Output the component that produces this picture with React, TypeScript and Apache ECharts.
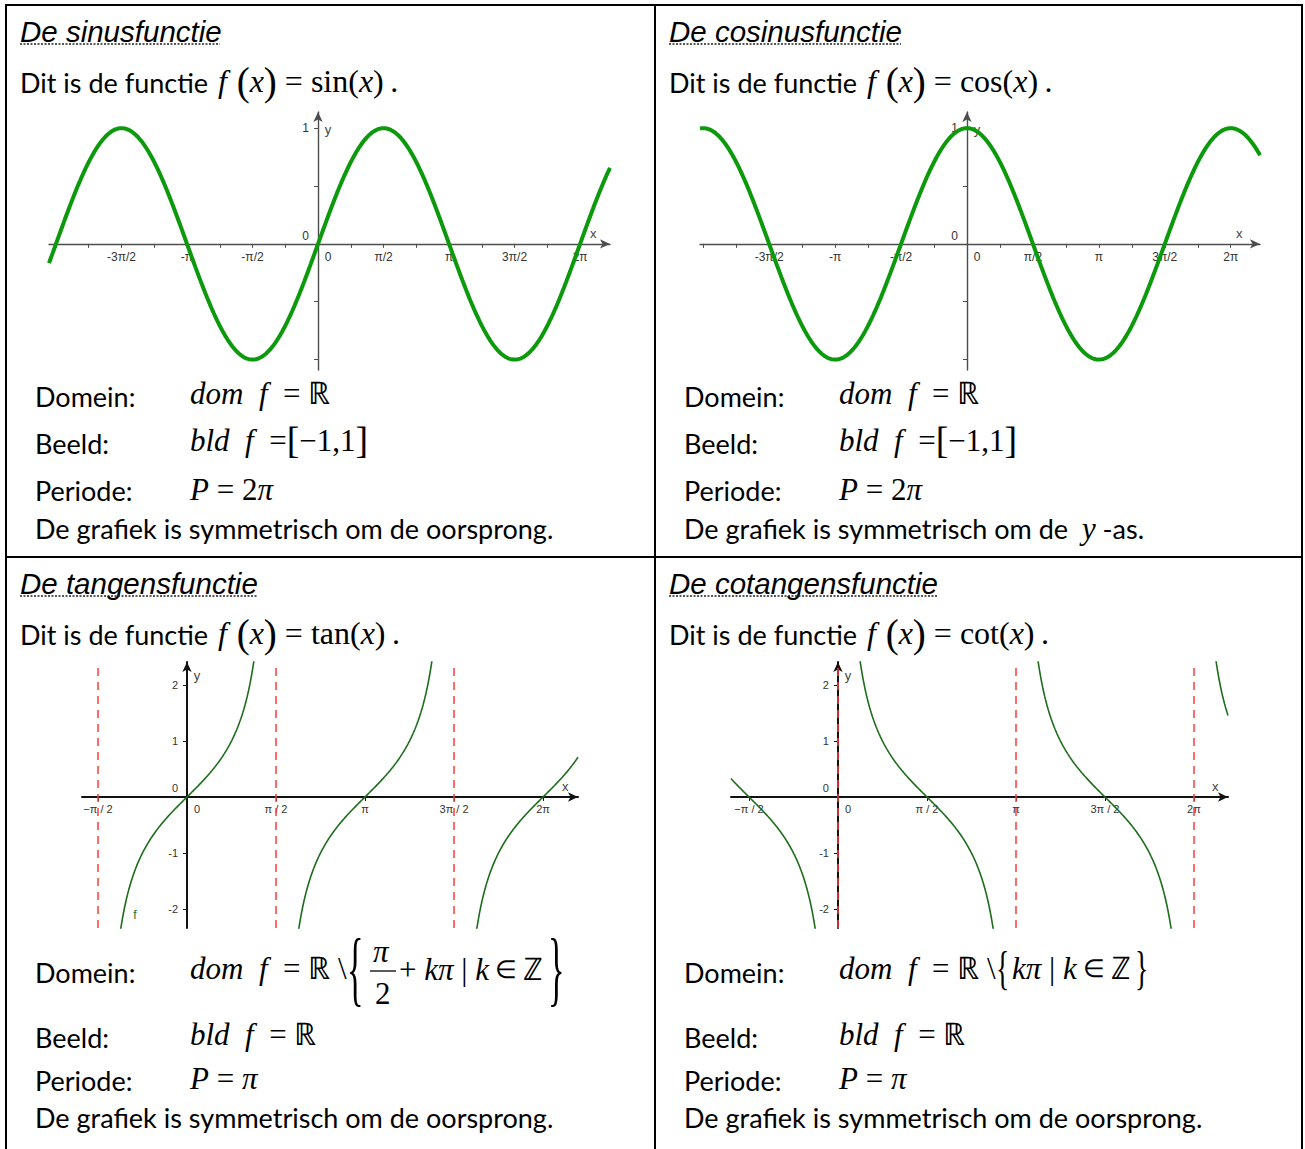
import React, { useEffect, useRef } from "react";
import * as echarts from "echarts";

const W = 1305;
const H = 1149;
const PI = Math.PI;

// Visible x ranges (radians) and y ranges of the four plots
const sinRange = [-6.45, 7.0];
const cosRange = [-6.36, 6.98];
const tanRange = [-1.853, 6.9];
const cotRange = [-1.888, 6.885];
const waveYRange = [-1.09, 1.14];
const tanYRange = [-2.34, 2.41];

// Tick labels (multiples of pi/2)
const waveSteps = [-3, -2, -1, 0, 1, 2, 3, 4];
const waveLabels = ["-3π/2", "-π", "-π/2", "0", "π/2", "π", "3π/2", "2π"];
const tanSteps = [-1, 0, 1, 2, 3, 4];
const tanLabels = ["−π / 2", "0", "π / 2", "π", "3π / 2", "2π"];
const waveYTicks = [-1, -0.5, 0.5, 1];
const waveYLabels = [0, 1];
const tanYTicks = [-2, -1, 1, 2];
const tanYLabels = [-2, -1, 0, 1, 2];

// Vertical asymptotes (in multiples of pi/2)
const tanAsymptotes = [-1, 1, 3];
const cotAsymptotes = [0, 2, 4];

// Branch limits where |tan| or |cot| stays within the drawn window
const branchCut = 3;
const samplesPerCurve = 600;

// Plot boxes
const grids = [
  { left: 49, top: 112, width: 561, height: 258 },
  { left: 700, top: 112, width: 560, height: 258 },
  { left: 82, top: 662, width: 496, height: 266 },
  { left: 731, top: 662, width: 497, height: 266 },
];

const SANS = "Lato";
const SERIF = "Liberation Serif";
const WAVE_GREEN = "#0c990c";
const TAN_GREEN = "#1d6d1d";

function sampleFn(fn: (x: number) => number, a: number, b: number, n: number) {
  const pts: number[][] = [];
  for (let i = 0; i <= n; i++) {
    const x = a + ((b - a) * i) / n;
    pts.push([x, fn(x)]);
  }
  return pts;
}

function quarterTicks(r: number[]) {
  const out: number[] = [];
  for (let k = Math.ceil(r[0] / (PI / 4)); (k * PI) / 4 <= r[1]; k++) if (k !== 0) out.push((k * PI) / 4);
  return out;
}

function tanBranches(r: number[]) {
  const res: number[][][] = [];
  const c = Math.atan(branchCut);
  for (let k = -1; k <= 3; k++) {
    const a = Math.max(k * PI - c, r[0]);
    const b = Math.min(k * PI + c, r[1]);
    if (b > a) res.push(sampleFn(Math.tan, a, b, 200));
  }
  return res;
}

function cotBranches(r: number[]) {
  const res: number[][][] = [];
  const c = Math.atan(1 / branchCut);
  const cot = (x: number) => Math.cos(x) / Math.sin(x);
  for (let k = -1; k <= 3; k++) {
    const a = Math.max(k * PI + c, r[0]);
    const b = Math.min((k + 1) * PI - c, r[1]);
    if (b > a) res.push(sampleFn(cot, a, b, 200));
  }
  return res;
}

// distance (px) of the value 0 from the low end of an axis span
const zeroOffset = (range: number[], span: number) => ((0 - range[0]) / (range[1] - range[0])) * span;

function xAxisFor(
  gridIndex: number,
  range: number[],
  yRange: number[],
  steps: number[],
  labels: string[],
  opt: { color: string; width: number; fontSize: number; ticks: number[]; zeroShift: number; nameGap: number }
) {
  return {
    type: "value",
    gridIndex,
    min: range[0],
    max: range[1],
    position: "bottom",
    offset: -zeroOffset(yRange, grids[gridIndex].height),
    axisLine: {
      onZero: false,
      lineStyle: { color: opt.color, width: opt.width },
      symbol: ["none", "arrow"],
      symbolSize: [7, 10],
    },
    axisTick: { show: true, customValues: opt.ticks, length: 4, lineStyle: { color: opt.color, width: 1 } },
    axisLabel: {
      customValues: steps.map((k) => (k * PI) / 2),
      formatter: (v: number) => {
        const k = Math.round(v / (PI / 2));
        const i = steps.indexOf(k);
        return k === 0 ? "{o|0}" : labels[i];
      },
      color: "#333",
      fontSize: opt.fontSize,
      fontFamily: "Liberation Sans",
      margin: 7,
      rich: {
        o: { padding: [0, 0, 0, opt.zeroShift], color: "#333", fontSize: opt.fontSize, fontFamily: "Liberation Sans" },
      },
    },
    splitLine: { show: false },
    name: "x",
    nameLocation: "end",
    nameGap: opt.nameGap,
    nameTextStyle: {
      color: "#444",
      fontSize: 13,
      fontFamily: "Liberation Sans",
      verticalAlign: "bottom",
      padding: [0, 0, 4, 0],
    },
  };
}

function yAxisFor(
  gridIndex: number,
  range: number[],
  xRange: number[],
  ticks: number[],
  labels: number[],
  opt: { color: string; width: number; fontSize: number; zeroLift: number; nameGap: number; nameShift: number }
) {
  return {
    type: "value",
    gridIndex,
    min: range[0],
    max: range[1],
    position: "left",
    offset: -zeroOffset(xRange, grids[gridIndex].width),
    axisLine: {
      onZero: false,
      lineStyle: { color: opt.color, width: opt.width },
      symbol: ["none", "arrow"],
      symbolSize: [7, 10],
    },
    axisTick: { show: true, customValues: ticks, length: 4, lineStyle: { color: opt.color, width: 1 } },
    axisLabel: {
      customValues: labels,
      formatter: (v: number) => (Math.abs(v) < 1e-9 ? "{o|0}" : String(v)),
      color: "#333",
      fontSize: opt.fontSize,
      fontFamily: "Liberation Sans",
      margin: 9,
      rich: {
        o: { padding: [0, 0, opt.zeroLift, 0], color: "#333", fontSize: opt.fontSize, fontFamily: "Liberation Sans" },
      },
    },
    splitLine: { show: false },
    name: "y",
    nameLocation: "end",
    nameGap: opt.nameGap,
    nameTextStyle: { color: "#444", fontSize: 13, fontFamily: "Liberation Sans", padding: [0, 0, 0, opt.nameShift] },
  };
}

const asymptoteLine = (steps: number[]) => ({
  symbol: "none",
  silent: true,
  label: { show: false },
  lineStyle: { color: "#ff3b3b", type: [8, 6], width: 1.5 },
  data: steps.map((k) => ({ xAxis: (k * PI) / 2 })),
});

// ---------- text helpers ----------
const SANS_SIZE = 27;
const sansStyle = { fontFamily: SANS, fontSize: SANS_SIZE, fill: "#000", verticalAlign: "middle" };
const mathRich = (size: number) => ({
  i: { fontFamily: SERIF, fontStyle: "italic", fontSize: size, fill: "#000", verticalAlign: "middle" },
  m: { fontFamily: SERIF, fontSize: size, fill: "#000", verticalAlign: "middle" },
  e: { fontFamily: SERIF, fontSize: size * 0.8, fill: "#000", verticalAlign: "middle" },
  p: { fontFamily: SERIF, fontSize: size * 1.22, fill: "#000", verticalAlign: "middle" },
  s: { ...sansStyle },
});

function textEl(x: number, y: number, text: string, style: any = {}) {
  return {
    type: "text",
    x,
    y,
    style: { text, ...sansStyle, ...style },
  };
}

function mathEl(x: number, y: number, text: string, size = 31, extra: any = {}) {
  return {
    type: "text",
    x,
    y,
    ...extra,
    style: { text, fontFamily: SERIF, fontSize: size, fill: "#000", verticalAlign: "middle", rich: mathRich(size) },
  };
}

function titleEls(x: number, y: number, text: string, width: number) {
  return [
    textEl(x, y, text, { fontFamily: "Liberation Sans", fontStyle: "italic", fontSize: 29.5 }),
    {
      type: "line",
      shape: { x1: x, y1: y + 13, x2: x + width, y2: y + 13 },
      style: { stroke: "#222", lineWidth: 1.5, lineDash: [2, 1.5] },
    },
  ];
}

function functionLine(x: number, y: number, fn: string) {
  return [
    textEl(x, y + 1, "Dit is de functie"),
    mathEl(x + 198, y, `{i|f}{p| (}{i|x}{p|)}{m| = ${fn}(}{i|x}{m|)\u2009.}`, 32),
  ];
}

function buildOption() {
  const graphics: any[] = [];

  // Table borders
  const border = { stroke: "#000", lineWidth: 2 };
  graphics.push(
    { type: "line", shape: { x1: 5, y1: 5, x2: 1303, y2: 5 }, style: border },
    { type: "line", shape: { x1: 6, y1: 5, x2: 6, y2: H }, style: border },
    { type: "line", shape: { x1: 1302, y1: 5, x2: 1302, y2: H }, style: border },
    { type: "line", shape: { x1: 655, y1: 5, x2: 655, y2: H }, style: border },
    { type: "line", shape: { x1: 6, y1: 557, x2: 1302, y2: 557 }, style: border }
  );

  // ---- top-left: sinus ----
  graphics.push(
    ...titleEls(20, 31, "De sinusfunctie", 200),
    ...functionLine(20, 81, "sin"),
    textEl(35, 396, "Domein:"),
    mathEl(190, 393, "{i|dom}{m|  }{i|f}{m|  = ℝ}"),
    textEl(35, 443, "Beeld:"),
    mathEl(190, 440, "{i|bld}{m|  }{i|f}{m|  =}{p|[}{m|−1,1}{p|]}"),
    textEl(35, 490, "Periode:"),
    mathEl(190, 489, "{i|P}{m| = 2}{i|π}"),
    textEl(35, 528, "De grafiek is symmetrisch om de oorsprong.")
  );

  // ---- top-right: cosinus ----
  graphics.push(
    ...titleEls(669, 31, "De cosinusfunctie", 232),
    ...functionLine(669, 81, "cos"),
    textEl(684, 396, "Domein:"),
    mathEl(839, 393, "{i|dom}{m|  }{i|f}{m|  = ℝ}"),
    textEl(684, 443, "Beeld:"),
    mathEl(839, 440, "{i|bld}{m|  }{i|f}{m|  =}{p|[}{m|−1,1}{p|]}"),
    textEl(684, 490, "Periode:"),
    mathEl(839, 489, "{i|P}{m| = 2}{i|π}"),
    mathEl(684, 528, "{s|De grafiek is symmetrisch om de  }{i|y}{s| -as.}")
  );

  // ---- bottom-left: tangens ----
  graphics.push(
    ...titleEls(20, 583, "De tangensfunctie", 237),
    ...functionLine(20, 633, "tan"),
    textEl(35, 972, "Domein:"),
    mathEl(190, 968, "{i|dom}{m|  }{i|f}{m|  = ℝ \\}"),
    mathEl(347, 969, "{", 82, { scaleX: 0.42 }),
    mathEl(373, 951, "{i|π}"),
    { type: "line", shape: { x1: 370, y1: 971, x2: 396, y2: 971 }, style: { stroke: "#000", lineWidth: 1.3 } },
    mathEl(375, 993, "2"),
    mathEl(399, 969, "{m|+ }{i|kπ}{m| | }{i|k}{e| ∈ }{m|ℤ}"),
    mathEl(548, 969, "}", 82, { scaleX: 0.42 }),
    textEl(35, 1037, "Beeld:"),
    mathEl(190, 1034, "{i|bld}{m|  }{i|f}{m|  = ℝ}"),
    textEl(35, 1080, "Periode:"),
    mathEl(190, 1078, "{i|P}{m| = }{i|π}"),
    textEl(35, 1117, "De grafiek is symmetrisch om de oorsprong.")
  );

  // ---- bottom-right: cotangens ----
  graphics.push(
    ...titleEls(669, 583, "De cotangensfunctie", 268),
    ...functionLine(669, 633, "cot"),
    textEl(684, 972, "Domein:"),
    mathEl(839, 968, "{i|dom}{m|  }{i|f}{m|  = ℝ \\}"),
    mathEl(996, 968, "{", 46, { scaleX: 0.6 }),
    mathEl(1012, 968, "{i|kπ}{m| | }{i|k}{e| ∈ }{m|ℤ}"),
    mathEl(1135, 968, "}", 46, { scaleX: 0.6 }),
    textEl(684, 1037, "Beeld:"),
    mathEl(839, 1034, "{i|bld}{m|  }{i|f}{m|  = ℝ}"),
    textEl(684, 1080, "Periode:"),
    mathEl(839, 1078, "{i|P}{m| = }{i|π}"),
    textEl(684, 1117, "De grafiek is symmetrisch om de oorsprong.")
  );

  const waveAxisStyle = { color: "#4d4d4d", width: 1.4 };
  const tanAxisStyle = { color: "#111", width: 2 };

  const series: any[] = [
    {
      type: "line",
      name: "sin",
      xAxisIndex: 0,
      yAxisIndex: 0,
      showSymbol: false,
      data: sampleFn(Math.sin, sinRange[0], sinRange[1], samplesPerCurve),
      lineStyle: { color: WAVE_GREEN, width: 4 },
      itemStyle: { color: WAVE_GREEN },
    },
    {
      type: "line",
      name: "cos",
      xAxisIndex: 1,
      yAxisIndex: 1,
      showSymbol: false,
      data: sampleFn(Math.cos, cosRange[0], cosRange[1], samplesPerCurve),
      lineStyle: { color: WAVE_GREEN, width: 4 },
      itemStyle: { color: WAVE_GREEN },
    },
  ];

  tanBranches(tanRange).forEach((d, i) =>
    series.push({
      type: "line",
      name: "tan",
      xAxisIndex: 2,
      yAxisIndex: 2,
      showSymbol: false,
      data: d,
      lineStyle: { color: TAN_GREEN, width: 1.6 },
      itemStyle: { color: TAN_GREEN },
      markLine: i === 0 ? asymptoteLine(tanAsymptotes) : undefined,
      markPoint:
        i === 0
          ? {
              symbol: "circle",
              symbolSize: 0,
              data: [
                {
                  coord: [-0.92, -2.1],
                  label: { show: true, formatter: "f", color: TAN_GREEN, fontSize: 12, fontFamily: "Liberation Sans", position: "inside" },
                },
              ],
            }
          : undefined,
      z: 3,
    })
  );

  cotBranches(cotRange).forEach((d, i) =>
    series.push({
      type: "line",
      name: "cot",
      xAxisIndex: 3,
      yAxisIndex: 3,
      showSymbol: false,
      data: d,
      lineStyle: { color: TAN_GREEN, width: 1.6 },
      itemStyle: { color: TAN_GREEN },
      markLine: i === 0 ? asymptoteLine(cotAsymptotes) : undefined,
      z: 3,
    })
  );

  const tanTicks = tanSteps.filter((k) => k !== 0).map((k) => (k * PI) / 2);

  return {
    animation: false,
    backgroundColor: "#fff",
    grid: grids.map((g) => ({ ...g, outerBoundsMode: "none" })),
    xAxis: [
      xAxisFor(0, sinRange, waveYRange, waveSteps, waveLabels, { ...waveAxisStyle, fontSize: 12, ticks: quarterTicks(sinRange), zeroShift: 20, nameGap: -20 }),
      xAxisFor(1, cosRange, waveYRange, waveSteps, waveLabels, { ...waveAxisStyle, fontSize: 12, ticks: quarterTicks(cosRange), zeroShift: 20, nameGap: -24 }),
      xAxisFor(2, tanRange, tanYRange, tanSteps, tanLabels, { ...tanAxisStyle, fontSize: 11, ticks: tanTicks, zeroShift: 20, nameGap: -16 }),
      xAxisFor(3, cotRange, tanYRange, tanSteps, tanLabels, { ...tanAxisStyle, fontSize: 11, ticks: tanTicks, zeroShift: 20, nameGap: -16 }),
    ],
    yAxis: [
      yAxisFor(0, waveYRange, sinRange, waveYTicks, waveYLabels, { ...waveAxisStyle, fontSize: 12, zeroLift: 16, nameGap: -24, nameShift: 20 }),
      yAxisFor(1, waveYRange, cosRange, waveYTicks, waveYLabels, { ...waveAxisStyle, fontSize: 12, zeroLift: 16, nameGap: -24, nameShift: 20 }),
      yAxisFor(2, tanYRange, tanRange, tanYTicks, tanYLabels, { ...tanAxisStyle, fontSize: 11, zeroLift: 18, nameGap: -20, nameShift: 20 }),
      yAxisFor(3, tanYRange, cotRange, tanYTicks, tanYLabels, { ...tanAxisStyle, fontSize: 11, zeroLift: 18, nameGap: -20, nameShift: 20 }),
    ],
    graphic: { elements: graphics },
    series,
  };
}

export default function App() {
  const ref = useRef<HTMLDivElement>(null);
  useEffect(() => {
    const chart = echarts.init(ref.current!, null, { renderer: "svg" });
    chart.setOption(buildOption() as any);
    return () => chart.dispose();
  }, []);
  return (
    <div
      ref={ref}
      style={{ position: "absolute", left: 0, top: 0, width: W, height: H, background: "#fff" }}
    />
  );
}
